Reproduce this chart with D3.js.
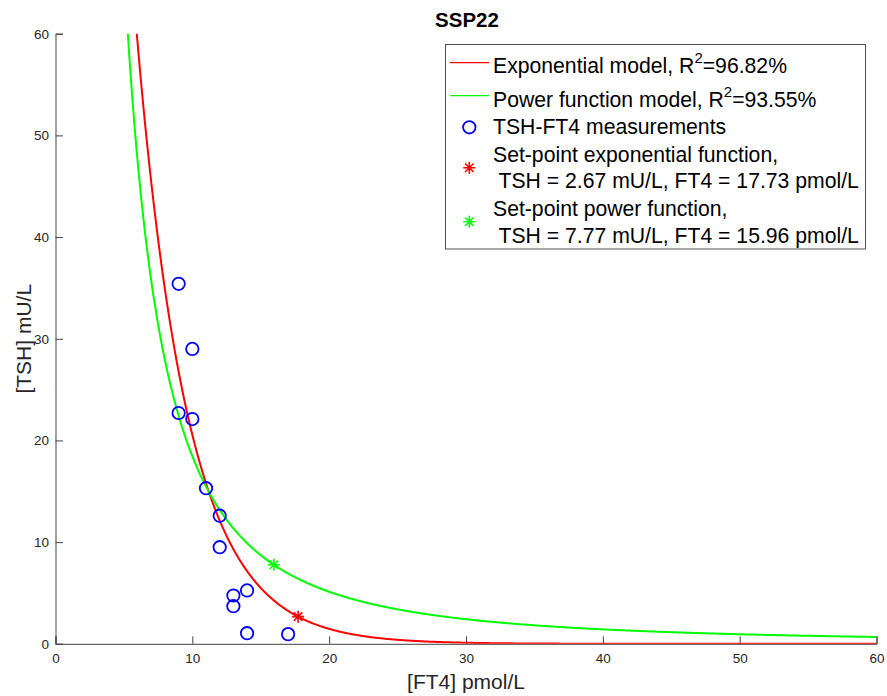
<!DOCTYPE html>
<html>
<head>
<meta charset="utf-8">
<script src="https://cdn.jsdelivr.net/npm/d3@7"></script>
<style>
  html, body { margin: 0; padding: 0; background: #fff; }
  svg { display: block; font-family: "Liberation Sans", Arial, Helvetica, sans-serif; }
  .pre { white-space: pre; }
</style>
</head>
<body>
<svg id="chart" width="887" height="696"></svg>
<script>
// Measurements for subject SSP22
const ft4Values = [9, 10, 9, 10, 11, 12, 12, 13, 13, 14, 14, 17];
const tshValues = [35.4, 29.0, 22.7, 22.1, 15.3, 12.6, 9.5, 4.75, 3.7, 5.25, 1.04, 0.95];

// Fitted set-points
const setPointExp = { ft4: 17.73, tsh: 2.67 };
const setPointPow = { ft4: 15.96, tsh: 7.77 };

// Model parameters: TSH = A*exp(-b*FT4) and TSH = a*FT4^(-k)
const expRate = 0.264;
const powExponent = 1.85;

const xTicks = [0, 10, 20, 30, 40, 50, 60];
const yTicks = [0, 10, 20, 30, 40, 50, 60];

const expModel = v => setPointExp.tsh * Math.exp(-expRate * (v - setPointExp.ft4));
const powModel = v => setPointPow.tsh * Math.pow(setPointPow.ft4 / v, powExponent);

const svg = d3.select("#chart");
const plotLeft = 55.5, plotRight = 876.5, plotTop = 33.7, plotBottom = 643.8;
const x = d3.scaleLinear().domain([0, 60]).range([plotLeft, plotRight]);
const y = d3.scaleLinear().domain([0, 60]).range([plotBottom, plotTop]);
const axisColor = "#262626";

svg.append("defs").append("clipPath").attr("id", "plotClip")
  .append("rect").attr("x", plotLeft).attr("y", plotTop)
  .attr("width", plotRight - plotLeft).attr("height", plotBottom - plotTop);

// Axes (inward ticks, no box)
const xAxis = svg.append("g").attr("transform", `translate(0,${plotBottom})`)
  .call(d3.axisBottom(x).tickValues(xTicks).tickSize(-7.5).tickPadding(13).tickFormat(d3.format("d")));
const yAxis = svg.append("g").attr("transform", `translate(${plotLeft},0)`)
  .call(d3.axisLeft(y).tickValues(yTicks).tickSize(-7.5).tickPadding(13).tickFormat(d3.format("d")));
[xAxis, yAxis].forEach(g => {
  g.select(".domain").attr("stroke", "#444").attr("stroke-width", 1);
  g.selectAll(".tick line").attr("stroke", "#444");
  g.selectAll(".tick text").attr("fill", axisColor).style("font-size", "13.5px")
    .style("font-family", "'Liberation Sans', Arial, sans-serif");
});
yAxis.selectAll(".tick text").attr("x", -6.5);
xAxis.selectAll(".tick text").attr("y", 10);

// Model curves
const sampleX = d3.range(3, 60.001, 0.05);
const line = fn => d3.line().x(d => x(d)).y(d => y(fn(d)));
const plot = svg.append("g").attr("clip-path", "url(#plotClip)");
plot.append("path").datum(sampleX).attr("d", line(expModel))
  .attr("fill", "none").attr("stroke", "#ff0000").attr("stroke-width", 2);
plot.append("path").datum(sampleX).attr("d", line(powModel))
  .attr("fill", "none").attr("stroke", "#00ff00").attr("stroke-width", 2);

// Measurement circles
svg.append("g").selectAll("circle").data(ft4Values.map((v, i) => [v, tshValues[i]]))
  .join("circle")
  .attr("cx", d => x(d[0])).attr("cy", d => y(d[1])).attr("r", 6.2)
  .attr("fill", "none").attr("stroke", "#0000ff").attr("stroke-width", 1.8);

// Asterisk marker
function asterisk(g, cx, cy, color) {
  const r = 6, d = r * Math.SQRT1_2;
  const p = `M${cx - r},${cy}L${cx + r},${cy}M${cx},${cy - r}L${cx},${cy + r}` +
            `M${cx - d},${cy - d}L${cx + d},${cy + d}M${cx - d},${cy + d}L${cx + d},${cy - d}`;
  g.append("path").attr("d", p).attr("stroke", color).attr("stroke-width", 1.6).attr("fill", "none");
}
asterisk(svg, x(setPointExp.ft4), y(setPointExp.tsh), "#ff0000");
asterisk(svg, x(setPointPow.ft4), y(setPointPow.tsh), "#00ff00");

// Title and axis labels
svg.append("text").attr("x", 467).attr("y", 26.5).attr("text-anchor", "middle")
  .style("font-size", "20.5px").style("font-weight", "bold").attr("fill", "#000").text("SSP22");
svg.append("text").attr("x", (plotLeft + plotRight) / 2).attr("y", 688.5).attr("text-anchor", "middle")
  .style("font-size", "21px").attr("fill", axisColor).text("[FT4] pmol/L");
svg.append("text").attr("transform", `translate(30.5,${(plotTop + plotBottom) / 2}) rotate(-90)`)
  .attr("text-anchor", "middle")
  .style("font-size", "21px").attr("fill", axisColor).text("[TSH] mU/L");

// Legend
const lg = svg.append("g");
lg.append("rect").attr("x", 445.5).attr("y", 44.5).attr("width", 420).attr("height", 204.5)
  .attr("fill", "#fff").attr("stroke", "#262626").attr("stroke-width", 0.8);
const tx = 493, fs = "21.2px";
function rsq(yb, prefix, val) {
  const t = lg.append("text").attr("x", tx).attr("y", yb).style("font-size", fs).attr("fill", "#000");
  t.append("tspan").text(prefix + "R");
  t.append("tspan").attr("dy", -10).style("font-size", "15px").text("2");
  t.append("tspan").attr("dy", 10).text("=" + val + "%");
}
lg.append("line").attr("x1", 450).attr("x2", 489).attr("y1", 62.7).attr("y2", 62.7)
  .attr("stroke", "#ff0000").attr("stroke-width", 1.2);
rsq(73.3, "Exponential model, ", "96.82");
lg.append("line").attr("x1", 450).attr("x2", 489).attr("y1", 95.7).attr("y2", 95.7)
  .attr("stroke", "#00ff00").attr("stroke-width", 1.2);
rsq(106.8, "Power function model, ", "93.55");
lg.append("circle").attr("cx", 469.3).attr("cy", 127.3).attr("r", 6.2)
  .attr("fill", "none").attr("stroke", "#0000ff").attr("stroke-width", 1.8);
lg.append("text").attr("x", tx).attr("y", 134).style("font-size", fs).text("TSH-FT4 measurements");
asterisk(lg, 469.3, 167.7, "#ff0000");
lg.append("text").attr("x", tx).attr("y", 161.5).style("font-size", fs).text("Set-point exponential function,");
lg.append("text").attr("class", "pre").attr("x", tx).attr("y", 188.3).style("font-size", fs)
  .text(` TSH = ${setPointExp.tsh.toFixed(2)} mU/L, FT4 = ${setPointExp.ft4.toFixed(2)} pmol/L`);
asterisk(lg, 469.3, 221.7, "#00ff00");
lg.append("text").attr("x", tx).attr("y", 215.8).style("font-size", fs).text("Set-point power function,");
lg.append("text").attr("class", "pre").attr("x", tx).attr("y", 242.6).style("font-size", fs)
  .text(` TSH = ${setPointPow.tsh.toFixed(2)} mU/L, FT4 = ${setPointPow.ft4.toFixed(2)} pmol/L`);
</script>
</body>
</html>
